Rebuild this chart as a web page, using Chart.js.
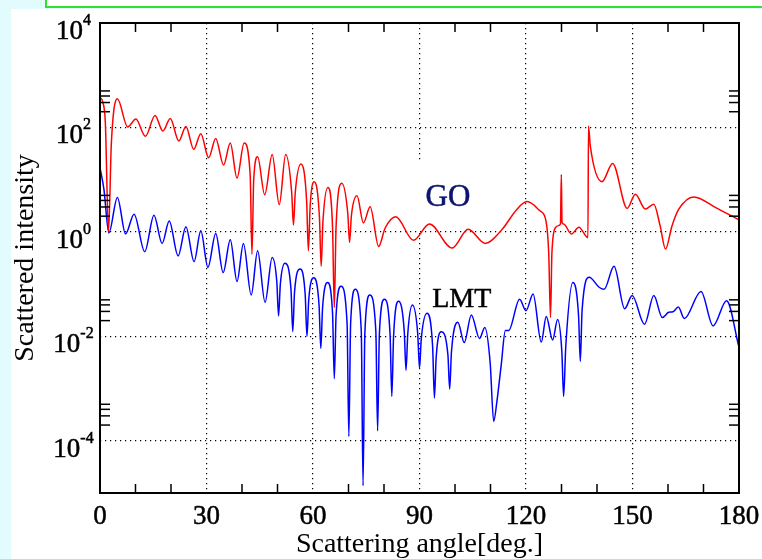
<!DOCTYPE html>
<html>
<head>
<meta charset="utf-8">
<title>Scattered intensity</title>
<script src="https://cdn.jsdelivr.net/npm/chart.js@4/dist/chart.umd.min.js"></script>
<style>
  html, body { margin: 0; padding: 0; width: 762px; height: 559px; overflow: hidden; background: #e2fbfc; }
  #sheet { position: absolute; left: 11px; top: 9px; right: 0; bottom: 0; background: #fff; }
  #band { position: absolute; left: 45px; top: -9px; width: 800px; height: 13px; border: 2px solid #2fe02f; background: #fff; }
  #plot { position: absolute; left: 0; top: 0; }
</style>
</head>
<body>
<div id="sheet"></div>
<div id="band"></div>
<canvas id="plot" width="762" height="559"></canvas>
<script>
// scattering angle (deg) and log10 of intensity, geometric optics
var goAngle = [0.0, 0.8, 1.5, 2.4, 3.2, 4.9, 7.8, 10.1, 12.8, 15.5, 17.7, 19.8, 22.2, 24.2, 26.4, 28.4,
  30.6, 32.6, 34.8, 36.7, 38.6, 40.6, 42.3, 42.8, 43.3, 44.4, 46.4, 48.5, 50.5, 52.3, 54.0, 54.5, 55.0,
  56.6, 58.2, 58.7, 59.2, 60.3, 61.8, 62.3, 62.8, 64.2, 65.5, 66.0, 66.5, 68.1, 69.8, 70.3, 70.8, 72.4,
  74.2, 76.1, 78.5, 80.3, 83.3, 88.3, 92.8, 99.2, 103.7, 108.5, 113.3, 117.4, 120.3, 124.0, 125.6,
  126.4, 126.9, 127.3, 128.3, 129.2, 129.7, 129.95, 130.15, 130.6, 132.8, 134.9, 137.45, 137.6, 138.1,
  141.4, 144.4, 148.5, 150.8, 153.6, 156.0, 157.8, 159.3, 161.1, 163.0, 167.3, 173.3, 180.0];
var goLog = [2.58, 2.48, 2.10, 0.00, 1.70, 2.55, 2.01, 2.16, 1.83, 2.23, 1.93, 2.17, 1.74, 2.02, 1.58, 1.88,
  1.42, 1.79, 1.28, 1.70, 1.03, 1.70, 1.10, -0.43, 1.00, 1.44, 0.71, 1.48, 0.52, 1.48, 0.75, 0.13, 0.75,
  1.30, 0.60, -0.36, 0.50, 0.96, 0.30, -0.66, 0.20, 0.85, 0.10, -1.45, 0.10, 0.93, 0.35, -0.20, 0.30, 0.69,
  0.17, 0.48, -0.28, 0.07, 0.29, -0.16, 0.15, -0.31, 0.05, -0.22, 0.05, 0.43, 0.58, 0.40, 0.22,
  -0.40, -1.64, -0.40, 0.08, 0.12, 0.15, 1.10, 0.18, 0.15, -0.04, 0.09, -0.11, 2.03, 1.65,
  0.96, 1.31, 0.45, 0.72, 0.44, 0.53, 0.11, -0.33, 0.11, 0.43, 0.67, 0.47, 0.23];

// same angles for the LMT result
var lmtAngle = [0.0, 1.1, 2.5, 4.9, 7.2, 9.6, 12.6, 15.2, 17.5, 19.5, 22.0, 24.2, 26.5, 28.4, 30.4,
  32.6, 34.7, 36.7, 38.6, 40.4, 42.6, 44.4, 46.5, 48.5, 49.8, 50.3, 50.8, 52.1, 53.8, 54.3, 54.8,
  56.4, 57.8, 58.3, 58.8, 60.2, 61.7, 62.2, 62.7, 64.1, 65.5, 66.0, 66.5, 67.9, 69.6, 70.1, 70.6,
  71.9, 73.6, 74.1, 74.6, 76.0, 77.7, 78.2, 78.7, 80.1, 81.7, 82.2, 82.7, 84.1, 85.7, 86.2, 86.7,
  88.0, 89.5, 90.0, 90.5, 92.1, 93.7, 94.2, 94.7, 96.1, 98.0, 98.5, 99.0, 100.8, 102.6, 104.6, 106.9,
  108.4, 109.9, 110.9, 111.8, 113.0, 114.2, 115.1, 118.2, 120.0, 122.0, 124.3, 125.7, 127.5, 128.9,
  130.1, 130.6, 131.2, 133.2, 134.8, 135.3, 135.8, 137.8, 140.6, 142.0, 144.8, 147.8, 149.9, 153.4,
  156.0, 158.4, 160.2, 161.4, 162.9, 164.6, 169.3, 172.7, 176.5, 180.0];
var lmtLog = [1.23, 0.82, -0.02, 0.66, -0.04, 0.34, -0.38, 0.32, -0.22, 0.21, -0.46, 0.10, -0.57, 0.02, -0.68,
  -0.03, -0.78, -0.15, -0.95, -0.22, -1.21, -0.36, -1.35, -0.49, -0.95, -1.61, -1.00, -0.60, -1.10, -1.91, -1.15,
  -0.71, -1.20, -2.00, -1.30, -0.88, -1.40, -2.23, -1.45, -0.97, -1.55, -2.81, -1.60, -1.04, -1.75, -3.92, -1.75,
  -1.10, -1.90, -4.86, -1.95, -1.21, -1.90, -3.81, -1.95, -1.29, -1.95, -3.15, -2.00, -1.33, -1.90, -2.65, -1.95,
  -1.40, -1.95, -2.61, -2.05, -1.56, -2.20, -3.18, -2.40, -1.91, -2.35, -3.01, -2.30, -1.73, -2.12, -1.59, -2.04,
  -1.83, -2.50, -3.63, -3.25, -2.56, -1.89, -1.89, -1.29, -1.51, -1.19, -2.11, -1.62, -2.07, -1.68,
  -2.30, -3.15, -2.20, -0.97, -1.60, -2.48, -1.50, -0.87, -1.06, -1.10, -0.66, -1.47, -1.22, -1.77,
  -1.22, -1.64, -1.54, -1.53, -1.44, -1.66, -1.14, -1.80, -1.32, -2.21];

var angleTicks = [0, 30, 60, 90, 120, 150, 180];
var minorAngles = [10, 20, 40, 50, 70, 80, 100, 110, 130, 140, 160, 170];
var decadeExps = [-4, -2, 0, 2, 4];
var minorMantissas = [2, 3, 4, 5];

// curve labels, placed in data coordinates (angle, log10 intensity)
var curveLabels = [
  { text: "GO", angle: 98.0, log: 0.68, color: "#0c1470", size: 31, clearBehind: true },
  { text: "LMT", angle: 101.9, log: -1.28, color: "#000", size: 28, clearBehind: false }
];

var serif = '"Liberation Serif", "Times New Roman", serif';

var toPoints = (xs, logs) => xs.map((a, i) => ({ x: a, y: Math.pow(10, logs[i]) }));

var line = (ctx, x1, y1, x2, y2) => {
  ctx.beginPath();
  ctx.moveTo(x1, y1);
  ctx.lineTo(x2, y2);
  ctx.stroke();
};

// filled text with a thin outline so it reads a bit heavier
var heavyText = (ctx, txt, x, y) => {
  ctx.fillText(txt, x, y);
  ctx.strokeText(txt, x, y);
};

// labels go under the curves; the GO one blanks the grid behind it
var labelPlugin = {
  id: "curveLabels",
  beforeDatasetsDraw: (chart) => {
    var ctx = chart.ctx;
    var xs = chart.scales.x, ys = chart.scales.y;
    ctx.save();
    ctx.lineWidth = 0.5;
    curveLabels.forEach((lab) => {
      var px = xs.getPixelForValue(lab.angle);
      var py = ys.getPixelForValue(Math.pow(10, lab.log));
      ctx.font = lab.size + "px " + serif;
      var w = ctx.measureText(lab.text).width;
      if (lab.clearBehind) {
        ctx.fillStyle = "#fff";
        ctx.fillRect(px - w / 2 - 8, py - 35, w + 16, 69);
      }
      ctx.fillStyle = lab.color;
      ctx.strokeStyle = lab.color;
      ctx.textAlign = "center";
      ctx.textBaseline = "middle";
      heavyText(ctx, lab.text, px, py + 1);
    });
    ctx.restore();
  }
};

// box, inward minor ticks and the 10^n labels
var framePlugin = {
  id: "frame",
  afterDatasetsDraw: (chart) => {
    var ctx = chart.ctx;
    var a = chart.chartArea;
    var xs = chart.scales.x, ys = chart.scales.y;
    ctx.save();
    ctx.strokeStyle = "#000";
    ctx.lineWidth = 1.5;
    minorAngles.forEach((ang) => {
      var px = xs.getPixelForValue(ang);
      line(ctx, px, a.top, px, a.top + 9);
      line(ctx, px, a.bottom, px, a.bottom - 9);
    });
    decadeExps.slice(0, -1).forEach((e) => {
      minorMantissas.forEach((m) => {
        var py = ys.getPixelForValue(m * Math.pow(10, e));
        line(ctx, a.left, py, a.left + 10, py);
        line(ctx, a.right, py, a.right - 10, py);
      });
    });
    ctx.lineWidth = 2;
    ctx.strokeRect(a.left, a.top, a.right - a.left, a.bottom - a.top);

    ctx.fillStyle = "#000";
    ctx.lineWidth = 0.5;
    ctx.textAlign = "left";
    ctx.textBaseline = "alphabetic";
    decadeExps.forEach((e) => {
      var py = ys.getPixelForValue(Math.pow(10, e));
      var base = "10", sup = String(e);
      ctx.font = "27px " + serif;
      var wb = ctx.measureText(base).width;
      ctx.font = "16px " + serif;
      var ws = ctx.measureText(sup).width;
      var x0 = 73.5 - (wb + ws) / 2;
      ctx.font = "27px " + serif;
      heavyText(ctx, base, x0, py + 16);
      ctx.font = "16px " + serif;
      heavyText(ctx, sup, x0 + wb, py + 2);
    });
    ctx.restore();
  }
};

var ctx = document.getElementById("plot").getContext("2d");
var chart = new Chart(ctx, {
  type: "line",
  data: {
    datasets: [
      {
        label: "GO",
        data: toPoints(goAngle, goLog),
        borderColor: "#ff0000",
        borderWidth: 1.5,
        pointRadius: 0,
        cubicInterpolationMode: "monotone"
      },
      {
        label: "LMT",
        data: toPoints(lmtAngle, lmtLog),
        borderColor: "#0000ff",
        borderWidth: 1.5,
        pointRadius: 0,
        cubicInterpolationMode: "monotone"
      }
    ]
  },
  options: {
    responsive: false,
    animation: false,
    devicePixelRatio: 1,
    layout: { padding: { top: 23, right: 23, left: 0, bottom: 0 } },
    plugins: { legend: { display: false }, tooltip: { enabled: false } },
    scales: {
      x: {
        type: "linear",
        min: 0,
        max: 180,
        afterBuildTicks: (s) => { s.ticks = angleTicks.map((v) => ({ value: v })); },
        afterFit: (s) => {
          s.height = 66;
          s.paddingLeft = 0;
          s.paddingRight = 0;
        },
        ticks: {
          color: "#000",
          font: { family: serif, size: 27 },
          padding: 8,
          maxRotation: 0,
          autoSkip: false,
          textStrokeColor: "#000",
          textStrokeWidth: 0.5
        },
        grid: { color: "#000", lineWidth: 1.2, drawTicks: false },
        border: { display: false, dash: [1.2, 3.8] },
        title: {
          display: true,
          text: "Scattering angle[deg.]",
          color: "#000",
          font: { family: serif, size: 28 },
          padding: { top: 0, bottom: -2 }
        }
      },
      y: {
        type: "logarithmic",
        min: 1e-5,
        max: 1e4,
        afterBuildTicks: (s) => { s.ticks = decadeExps.map((e) => ({ value: Math.pow(10, e) })); },
        afterFit: (s) => { s.width = 100; },
        ticks: { display: false },
        grid: { color: "#000", lineWidth: 1.2, drawTicks: false },
        border: { display: false, dash: [1.2, 3.8] },
        title: {
          display: true,
          text: "Scattered intensity",
          color: "#000",
          font: { family: serif, size: 28 },
          padding: { top: 9, bottom: 0 }
        }
      }
    }
  },
  plugins: [labelPlugin, framePlugin]
});
</script>
</body>
</html>
